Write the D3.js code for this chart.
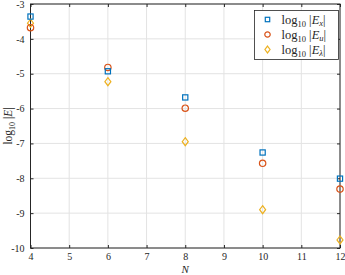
<!DOCTYPE html>
<html>
<head>
<meta charset="utf-8">
<script src="https://cdn.jsdelivr.net/npm/d3@7"></script>
<style>
body { margin: 0; background: #fff; }
text { font-family: "Liberation Serif", "DejaVu Serif", serif; }
</style>
</head>
<body>
<div id="chart"></div>
<script>
const width = 345;
const height = 275;
const margins = {top: 4, right: 5, bottom: 27, left: 30.5};

// data
const N = [4, 6, 8, 10, 12];
const logEx = [-3.36, -4.93, -5.68, -7.26, -8.01];
const logEu = [-3.68, -4.82, -5.99, -7.57, -8.31];
const logEl = [-3.55, -5.23, -6.95, -8.90, -9.77];
const xTicks = [4, 5, 6, 7, 8, 9, 10, 11, 12];
const yTicks = [-3, -4, -5, -6, -7, -8, -9, -10];

const series = [
  {name: "x", values: logEx, color: "#0072BD", shape: "square"},
  {name: "u", values: logEu, color: "#D95319", shape: "circle"},
  {name: "λ", values: logEl, color: "#EDB120", shape: "diamond"}
];

const svg = d3.select("#chart").append("svg")
  .attr("width", width)
  .attr("height", height);

const xScale = d3.scaleLinear().domain([4, 12]).range([margins.left, width - margins.right]);
const yScale = d3.scaleLinear().domain([-10, -3]).range([height - margins.bottom, margins.top]);

const x0 = xScale.range()[0], x1 = xScale.range()[1];
const y0 = yScale.range()[0], y1 = yScale.range()[1];

// grid
svg.append("g").selectAll("line").data(xTicks).join("line")
  .attr("x1", d => xScale(d)).attr("x2", d => xScale(d))
  .attr("y1", y0).attr("y2", y1)
  .attr("stroke", "#e3e3e3").attr("stroke-width", 1);
svg.append("g").selectAll("line").data(yTicks).join("line")
  .attr("x1", x0).attr("x2", x1)
  .attr("y1", d => yScale(d)).attr("y2", d => yScale(d))
  .attr("stroke", "#e3e3e3").attr("stroke-width", 1);

function styleAxis(g) {
  g.select(".domain").remove();
  g.selectAll("line").attr("stroke", "#262626");
  g.selectAll("text").attr("fill", "#262626").attr("font-size", "10px");
}

svg.append("g")
  .attr("transform", "translate(0," + y0 + ")")
  .call(d3.axisBottom(xScale).tickValues(xTicks).tickSize(-3).tickPadding(5).tickFormat(d3.format("d")))
  .call(styleAxis);
svg.append("g")
  .attr("transform", "translate(0," + y1 + ")")
  .call(d3.axisTop(xScale).tickValues(xTicks).tickSize(-3).tickFormat(""))
  .call(styleAxis);
svg.append("g")
  .attr("transform", "translate(" + x0 + ",0)")
  .call(d3.axisLeft(yScale).tickValues(yTicks).tickSize(-3).tickPadding(6).tickFormat(d => "-" + Math.abs(d)))
  .call(styleAxis);
svg.append("g")
  .attr("transform", "translate(" + x1 + ",0)")
  .call(d3.axisRight(yScale).tickValues(yTicks).tickSize(-3).tickFormat(""))
  .call(styleAxis);

// frame
svg.append("rect")
  .attr("x", x0).attr("y", y1)
  .attr("width", x1 - x0).attr("height", y0 - y1)
  .attr("fill", "none").attr("stroke", "#262626").attr("stroke-width", 1);

function drawMarker(g, shape, color, k) {
  k = k || 1;
  if (shape == "square") {
    g.append("rect").attr("x", -2.6 * k).attr("y", -2.6 * k).attr("width", 5.2 * k).attr("height", 5.2 * k)
      .attr("fill", "none").attr("stroke", color).attr("stroke-width", 1.2);
  } else if (shape == "circle") {
    g.append("circle").attr("r", 3.2 * k)
      .attr("fill", "none").attr("stroke", color).attr("stroke-width", 1.2);
  } else {
    g.append("path").attr("d", "M0," + (-4 * k) + "L" + (3 * k) + ",0L0," + (4 * k) + "L" + (-3 * k) + ",0Z")
      .attr("fill", "none").attr("stroke", color).attr("stroke-width", 1.2);
  }
}

// markers (draw diamonds first, squares on top)
[2, 1, 0].forEach(function(i) {
  const s = series[i];
  N.forEach(function(n, j) {
    const g = svg.append("g")
      .attr("transform", "translate(" + xScale(n) + "," + yScale(s.values[j]) + ")");
    drawMarker(g, s.shape, s.color);
  });
});

// axis labels
svg.append("text")
  .attr("x", xScale(8)).attr("y", 272.5)
  .attr("text-anchor", "middle").attr("font-size", "11px").attr("font-style", "italic")
  .attr("fill", "#262626").text("N");

const yl = svg.append("text")
  .attr("transform", "translate(11.5," + ((y0 + y1) / 2) + ") rotate(-90)")
  .attr("text-anchor", "middle").attr("font-size", "11.5px").attr("fill", "#262626");
yl.append("tspan").text("log");
yl.append("tspan").attr("font-size", "8px").attr("dy", 3).text("10");
yl.append("tspan").attr("dy", -3).text(" |");
yl.append("tspan").attr("font-style", "italic").text("E");
yl.append("tspan").text("|");

// legend
const legend = svg.append("g");
legend.append("rect")
  .attr("x", 254.5).attr("y", 10.5).attr("width", 84).attr("height", 49)
  .attr("fill", "#fff").attr("stroke", "#262626").attr("stroke-width", 0.8);

series.forEach(function(s, i) {
  const yy = 19.5 + i * 15;
  const g = legend.append("g").attr("transform", "translate(267.5," + yy + ")");
  drawMarker(g, s.shape, s.color, 0.85);
  const t = legend.append("text")
    .attr("x", 281.5).attr("y", yy + 4)
    .attr("font-size", "12.5px").attr("fill", "#262626");
  t.append("tspan").text("log");
  t.append("tspan").attr("font-size", "8.5px").attr("dy", 3).text("10");
  t.append("tspan").attr("dy", -3).text(" |");
  t.append("tspan").attr("font-style", "italic").text("E");
  t.append("tspan").attr("font-size", "8.5px").attr("dy", 2).attr("font-style", "italic").text(s.name);
  t.append("tspan").attr("dy", -2).text("|");
});
</script>
</body>
</html>
